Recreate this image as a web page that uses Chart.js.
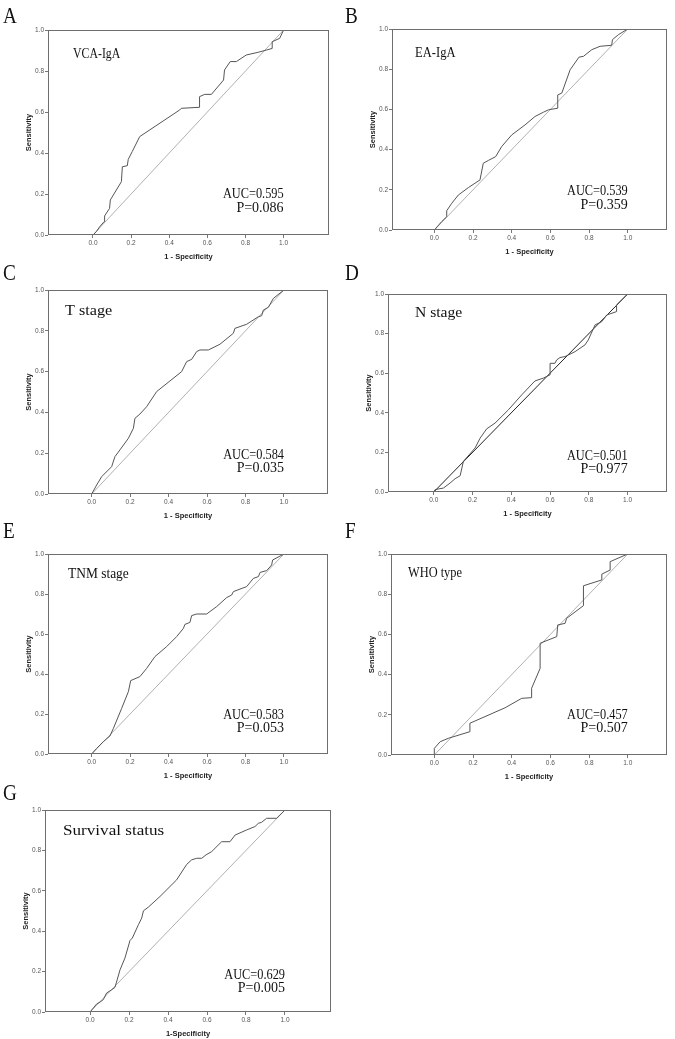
<!DOCTYPE html>
<html>
<head>
<meta charset="utf-8">
<script src="https://cdn.jsdelivr.net/npm/chart.js@4.4.1/dist/chart.umd.min.js"></script>
<style>
	html, body { margin: 0; padding: 0; background: #fff; }
	body { width: 675px; height: 1039px; position: relative; overflow: hidden; }
	canvas { position: absolute; }
</style>
</head>
<body>
<script>
// Data
const tickValues = [0, 0.2, 0.4, 0.6, 0.8, 1.0];
const diagX = [0, 1];
const diagY = [0, 1];

const vcaFpr = [0, 0.017, 0.035, 0.058, 0.061, 0.087, 0.091, 0.149, 0.154, 0.18, 0.185, 0.206, 0.245, 0.455, 0.463, 0.559, 0.559, 0.586, 0.621, 0.685, 0.69, 0.72, 0.752, 0.804, 0.865, 0.909, 0.94, 0.94, 0.979, 1];
const vcaTpr = [0, 0.016, 0.04, 0.065, 0.093, 0.13, 0.171, 0.26, 0.333, 0.338, 0.369, 0.407, 0.48, 0.61, 0.618, 0.623, 0.675, 0.686, 0.686, 0.756, 0.805, 0.846, 0.846, 0.878, 0.891, 0.902, 0.91, 0.943, 0.959, 1];

const eaFpr = [0, 0.038, 0.064, 0.064, 0.09, 0.124, 0.176, 0.236, 0.253, 0.279, 0.317, 0.348, 0.4, 0.469, 0.521, 0.564, 0.59, 0.638, 0.638, 0.659, 0.702, 0.748, 0.771, 0.814, 0.857, 0.917, 0.921, 0.952, 1];
const eaTpr = [0, 0.042, 0.066, 0.096, 0.133, 0.174, 0.211, 0.249, 0.332, 0.346, 0.365, 0.415, 0.473, 0.523, 0.565, 0.586, 0.598, 0.606, 0.672, 0.681, 0.797, 0.86, 0.864, 0.897, 0.914, 0.919, 0.947, 0.972, 1];

const tFpr = [0, 0.026, 0.052, 0.104, 0.121, 0.147, 0.191, 0.217, 0.225, 0.251, 0.286, 0.338, 0.407, 0.468, 0.494, 0.52, 0.546, 0.563, 0.607, 0.667, 0.737, 0.745, 0.806, 0.867, 0.884, 0.893, 0.919, 0.945, 1];
const tTpr = [0, 0.044, 0.085, 0.134, 0.183, 0.216, 0.273, 0.322, 0.371, 0.392, 0.428, 0.502, 0.554, 0.6, 0.649, 0.66, 0.698, 0.706, 0.706, 0.734, 0.788, 0.812, 0.832, 0.869, 0.874, 0.902, 0.915, 0.959, 1];

const nFpr = [0, 0.007, 0.05, 0.084, 0.11, 0.136, 0.153, 0.213, 0.239, 0.273, 0.316, 0.385, 0.454, 0.522, 0.565, 0.6, 0.6, 0.625, 0.634, 0.651, 0.677, 0.729, 0.78, 0.797, 0.832, 0.866, 0.892, 0.943, 0.943, 1];
const nTpr = [0, 0.012, 0.02, 0.045, 0.067, 0.082, 0.155, 0.222, 0.272, 0.319, 0.348, 0.415, 0.491, 0.561, 0.575, 0.592, 0.65, 0.65, 0.667, 0.679, 0.684, 0.709, 0.743, 0.768, 0.844, 0.86, 0.894, 0.911, 0.945, 1];

const tnmFpr = [0, 0.026, 0.061, 0.095, 0.113, 0.156, 0.191, 0.203, 0.251, 0.286, 0.329, 0.39, 0.442, 0.477, 0.485, 0.511, 0.52, 0.546, 0.598, 0.65, 0.702, 0.728, 0.737, 0.806, 0.841, 0.867, 0.876, 0.91, 0.936, 0.941, 1];
const tnmTpr = [0, 0.028, 0.062, 0.09, 0.128, 0.228, 0.312, 0.367, 0.387, 0.428, 0.487, 0.537, 0.587, 0.628, 0.648, 0.658, 0.692, 0.7, 0.7, 0.737, 0.782, 0.795, 0.812, 0.837, 0.878, 0.887, 0.908, 0.917, 0.945, 0.97, 1];

const whoFpr = [0, 0, 0.03, 0.072, 0.184, 0.184, 0.366, 0.452, 0.5, 0.503, 0.547, 0.547, 0.633, 0.638, 0.676, 0.684, 0.771, 0.771, 0.866, 0.866, 0.909, 0.909, 1];
const whoTpr = [0, 0.033, 0.066, 0.083, 0.116, 0.158, 0.235, 0.282, 0.285, 0.332, 0.431, 0.556, 0.589, 0.647, 0.655, 0.68, 0.743, 0.842, 0.871, 0.9, 0.92, 0.962, 1];

const survFpr = [0, 0.017, 0.034, 0.051, 0.068, 0.085, 0.111, 0.128, 0.154, 0.179, 0.205, 0.217, 0.248, 0.265, 0.274, 0.299, 0.359, 0.444, 0.496, 0.521, 0.547, 0.573, 0.595, 0.624, 0.675, 0.718, 0.744, 0.803, 0.846, 0.863, 0.88, 0.906, 0.957, 1];
const survTpr = [0, 0.02, 0.04, 0.049, 0.061, 0.094, 0.11, 0.122, 0.209, 0.267, 0.354, 0.366, 0.432, 0.465, 0.501, 0.519, 0.572, 0.654, 0.731, 0.753, 0.761, 0.761, 0.778, 0.794, 0.843, 0.843, 0.876, 0.901, 0.918, 0.934, 0.939, 0.959, 0.959, 1];

const panelLetters = ['A', 'B', 'C', 'D', 'E', 'F', 'G'];
const panelNames = ['VCA-IgA', 'EA-IgA', 'T stage', 'N stage', 'TNM stage', 'WHO type', 'Survival status'];
const aucLabels = ['AUC=0.595', 'AUC=0.539', 'AUC=0.584', 'AUC=0.501', 'AUC=0.583', 'AUC=0.457', 'AUC=0.629'];
const pLabels = ['P=0.086', 'P=0.359', 'P=0.035', 'P=0.977', 'P=0.053', 'P=0.507', 'P=0.005'];
const xTitles = ['1 - Specificity', '1 - Specificity', '1 - Specificity', '1 - Specificity', '1 - Specificity', '1 - Specificity', '1-Specificity'];
const yTitle = 'Sensitivity';

// Layout (page pixels)
const PAD_TOP = 36;
const PAD_RIGHT = 8;
const PAD_LEFT = 20;
const Y_AXIS_W = 28;
const X_AXIS_H = 30;
const CHAR_ADVANCE = 6.75; // the annotation font is a fixed-pitch serif

const layout = [
	{ box: [48, 30, 329, 235], xMin: -0.236, xMax: 1.238, letter: [3, 23], labelD: [25, 28], aucD: [-37, -23], diag: '#b0b0b0' },
	{ box: [392, 29, 667, 230], xMin: -0.219, xMax: 1.203, letter: [345, 23], labelD: [23, 28], aucD: [-35, -21], diag: '#b0b0b0' },
	{ box: [48, 290, 328, 494], xMin: -0.227, xMax: 1.229, letter: [3, 280], labelD: [17, 25], aucD: [-35, -22], diag: '#b0b0b0' },
	{ box: [388, 294, 667, 492], xMin: -0.236, xMax: 1.203, letter: [345, 280], labelD: [27, 23], aucD: [-32, -19], diag: '#222' },
	{ box: [48, 554, 328, 754], xMin: -0.227, xMax: 1.229, letter: [3, 538], labelD: [20, 24], aucD: [-35, -22], diag: '#b0b0b0' },
	{ box: [391, 554, 667, 755], xMin: -0.224, xMax: 1.203, letter: [345, 538], labelD: [17, 23], aucD: [-36, -23], diag: '#b0b0b0' },
	{ box: [45, 810, 331, 1012], xMin: -0.231, xMax: 1.236, letter: [3, 800], labelD: [18, 25], aucD: [-33, -20], diag: '#b0b0b0' },
];

const curves = [
	[vcaFpr, vcaTpr],
	[eaFpr, eaTpr],
	[tFpr, tTpr],
	[nFpr, nTpr],
	[tnmFpr, tnmTpr],
	[whoFpr, whoTpr],
	[survFpr, survTpr],
];

function toPoints(xs, ys) {
	return xs.map((x, i) => ({ x, y: ys[i] }));
}

function drawScaled(ctx, text, x, y, sx, align) {
	ctx.save();
	ctx.translate(x, y);
	ctx.scale(sx, 1);
	ctx.textAlign = align;
	ctx.fillText(text, 0, 0);
	ctx.restore();
}

// squeeze/stretch so the text takes a fixed-pitch width
function drawPitched(ctx, text, x, y, align) {
	const natural = ctx.measureText(text).width;
	drawScaled(ctx, text, x, y, (text.length * CHAR_ADVANCE) / natural, align);
}

// Frame, panel letter and annotations
const annotate = {
	id: 'annotate',
	afterDraw(chart, args, opts) {
		const { ctx, chartArea: a, scales } = chart;
		const i = opts.index;
		const lay = layout[i];
		ctx.save();
		ctx.strokeStyle = '#6e6e6e';
		ctx.lineWidth = 1;
		ctx.strokeRect(Math.round(a.left) + 0.5, Math.round(a.top) + 0.5, Math.round(a.right - a.left) - 1, Math.round(a.bottom - a.top) - 1);

		ctx.fillStyle = '#111';
		ctx.textBaseline = 'alphabetic';
		ctx.font = '24px "Liberation Serif"';
		drawScaled(ctx, panelLetters[i], a.left + lay.letter[0] - lay.box[0], a.top + lay.letter[1] - lay.box[1], 0.8, 'left');

		ctx.font = '15px "Liberation Serif"';
		drawPitched(ctx, panelNames[i], a.left + lay.labelD[0], a.top + lay.labelD[1], 'left');
		const x1 = scales.x.getPixelForValue(1);
		drawPitched(ctx, aucLabels[i], x1, a.bottom + lay.aucD[0], 'right');
		drawPitched(ctx, pLabels[i], x1, a.bottom + lay.aucD[1], 'right');
		ctx.restore();
	},
};

const tickFont = { family: 'Liberation Sans', size: 6.5 };
const titleFont = { family: 'Liberation Sans', size: 7.5, weight: 'bold' };

layout.forEach((lay, i) => {
	const [L, T, R, B] = lay.box;
	const left = L - PAD_LEFT - Y_AXIS_W;
	const top = T - PAD_TOP;
	const w = R - L + PAD_LEFT + Y_AXIS_W + PAD_RIGHT;
	const h = B - T + PAD_TOP + X_AXIS_H;

	const canvas = document.createElement('canvas');
	canvas.width = w;
	canvas.height = h;
	canvas.style.left = left + 'px';
	canvas.style.top = top + 'px';
	canvas.style.width = w + 'px';
	canvas.style.height = h + 'px';
	document.body.appendChild(canvas);

	new Chart(canvas, {
		type: 'scatter',
		data: {
			datasets: [
				{
					data: toPoints(curves[i][0], curves[i][1]),
					showLine: true,
					borderColor: '#555',
					borderWidth: 1,
					pointRadius: 0,
				},
				{
					data: toPoints(diagX, diagY),
					showLine: true,
					borderColor: lay.diag,
					borderWidth: 1,
					pointRadius: 0,
				},
			],
		},
		options: {
			responsive: false,
			animation: false,
			events: [],
			layout: { padding: { left: PAD_LEFT, top: PAD_TOP, right: PAD_RIGHT, bottom: 0 } },
			plugins: {
				legend: { display: false },
				tooltip: { enabled: false },
				annotate: { index: i },
			},
			scales: {
				x: {
					type: 'linear',
					min: lay.xMin,
					max: lay.xMax,
					afterBuildTicks: (s) => { s.ticks = tickValues.map((v) => ({ value: v })); },
					afterFit: (s) => { s.height = X_AXIS_H; },
					ticks: { callback: (v) => Number(v).toFixed(1), font: tickFont, color: '#555', padding: 1, maxRotation: 0, autoSkip: false },
					grid: { drawOnChartArea: false, drawTicks: true, tickLength: 3, color: '#777' },
					border: { display: false },
					title: { display: true, text: xTitles[i], font: titleFont, color: '#222', padding: { top: 4, bottom: 4 } },
				},
				y: {
					type: 'linear',
					min: 0,
					max: 1,
					afterBuildTicks: (s) => { s.ticks = tickValues.map((v) => ({ value: v })); },
					afterFit: (s) => { s.width = Y_AXIS_W; },
					ticks: { callback: (v) => Number(v).toFixed(1), font: tickFont, color: '#555', padding: 1, autoSkip: false },
					grid: { drawOnChartArea: false, drawTicks: true, tickLength: 3, color: '#777' },
					border: { display: false },
					title: { display: true, text: yTitle, font: titleFont, color: '#222', padding: { top: 4, bottom: 4 } },
				},
			},
		},
		plugins: [annotate],
	});
});
</script>
</body>
</html>
